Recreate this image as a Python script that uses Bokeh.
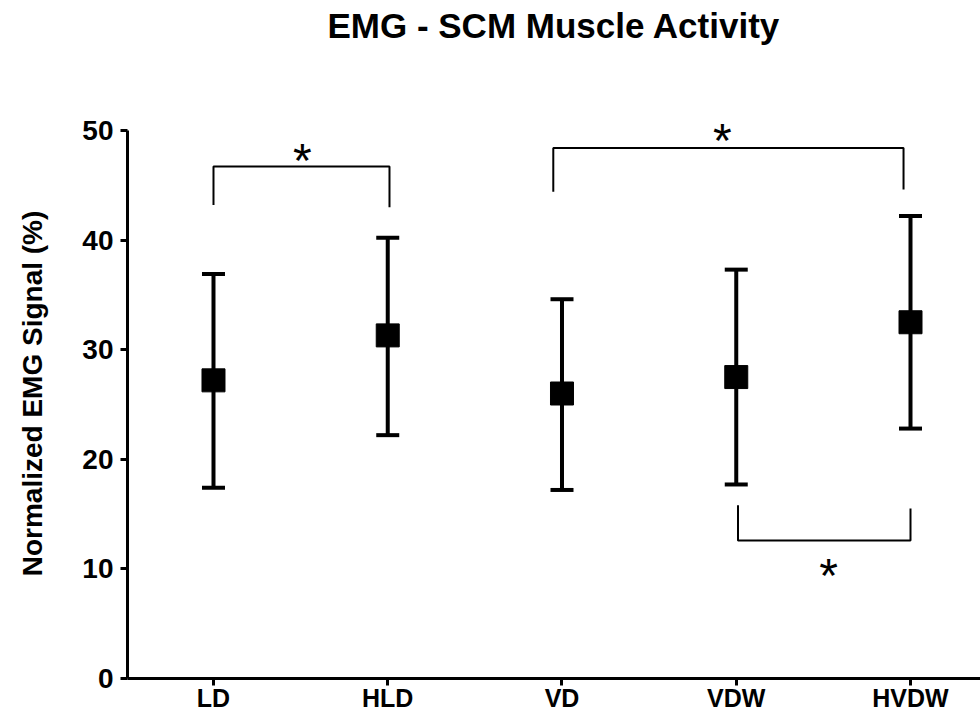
from bokeh.plotting import figure
from bokeh.models import Whisker, TeeHead, ColumnDataSource, FixedTicker, Range1d, Title
from bokeh.core.properties import value
from bokeh.embed import file_html
from bokeh.resources import INLINE

# ---- data ----
categories = ["LD", "HLD", "VD", "VDW", "HVDW"]
means = [27.2, 31.3, 26.0, 27.5, 32.5]
upper = [36.9, 40.2, 34.6, 37.3, 42.2]
lower = [17.4, 22.2, 17.2, 17.7, 22.8]
y_ticks = [0, 10, 20, 30, 40, 50]

# significance brackets (x in category-index units, 1 = first category)
bracket_x0 = [1.0, 2.95, 4.01]
bracket_x1 = [2.01, 4.96, 5.0]
bracket_level = [46.7, 48.4, 12.6]
bracket_end0 = [43.2, 44.4, 15.8]
bracket_end1 = [43.0, 44.6, 15.5]
star_x = [1.51, 3.92, 4.53]
star_y = [47.8, 49.6, 9.9]
star_text = ["*", "*", "*"]

FONT = "Liberation Sans"

xs = list(range(1, len(categories) + 1))
src = ColumnDataSource(dict(x=xs, mean=means, upper=upper, lower=lower))

p = figure(width=980, height=718, output_backend="svg", toolbar_location=None,
           x_range=Range1d(0.5065, 5.4017), y_range=Range1d(0, 52),
           min_border_left=127, min_border_right=0, min_border_top=108,
           min_border_bottom=40)
p.outline_line_color = None
p.background_fill_color = "white"
p.border_fill_color = "white"
p.xgrid.visible = False
p.ygrid.visible = False

p.title = Title(text="EMG - SCM Muscle Activity", align="center",
                vertical_align="top",
                text_font=FONT, text_font_size="35px", text_font_style="bold",
                text_color="black", standoff=10,
                padding=dict(left=0, right=0, top=0, bottom=57))

# axes
for ax in (p.xaxis[0], p.yaxis[0]):
    ax.axis_line_width = 3
    ax.axis_line_color = "black"
    ax.major_tick_line_width = 3
    ax.major_tick_line_color = "black"
    ax.major_tick_out = 7
    ax.major_tick_in = 0
    ax.minor_tick_line_color = None
    ax.major_label_text_font = FONT
    ax.major_label_text_font_style = "bold"
    ax.major_label_text_color = "black"

p.xaxis.ticker = FixedTicker(ticks=xs)
p.xaxis.major_label_overrides = {x: c for x, c in zip(xs, categories)}
p.xaxis.major_label_text_font_size = "25px"
p.xaxis.major_label_standoff = -2

p.yaxis.ticker = FixedTicker(ticks=y_ticks)
p.yaxis.bounds = (0, 50)
p.yaxis.major_label_text_font_size = "28px"
p.yaxis.major_label_standoff = 7
p.yaxis.axis_label = "Normalized EMG Signal (%)"
p.yaxis.axis_label_text_font = FONT
p.yaxis.axis_label_text_font_size = "28px"
p.yaxis.axis_label_text_font_style = "bold"
p.yaxis.axis_label_text_color = "black"
p.yaxis.axis_label_standoff = 31

# error bars
p.add_layout(Whisker(source=src, base="x", upper="upper", lower="lower",
                     line_width=4, line_color="black",
                     upper_head=TeeHead(size=23, line_width=4, line_color="black"),
                     lower_head=TeeHead(size=23, line_width=4, line_color="black")))

# mean markers
p.scatter("x", "mean", source=src, marker="square", size=23,
          fill_color="black", line_color="black")

# significance brackets
bx, by = [], []
for x0, x1, lv, e0, e1 in zip(bracket_x0, bracket_x1, bracket_level, bracket_end0, bracket_end1):
    bx.append([x0, x0, x1, x1])
    by.append([e0, lv, lv, e1])
p.multi_line(bx, by, line_color="black", line_width=2)

p.text(star_x, star_y, text=star_text, text_font=value(FONT),
       text_font_size="48px", text_align="center", text_baseline="alphabetic",
       y_offset=6, text_color="black")

open("out.html", "w").write(file_html(p, INLINE))
